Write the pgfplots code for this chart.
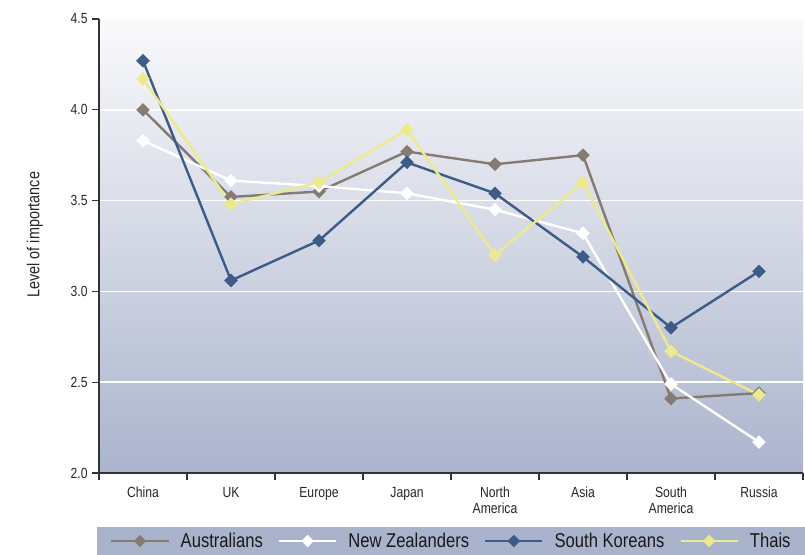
\documentclass[border=0pt]{standalone}
\usepackage{fontspec}
\setmainfont{Liberation Sans}[FakeStretch=0.83]
\usepackage{pgfplots}
\pgfplotsset{compat=1.18}
\definecolor{aus}{HTML}{857B71}
\definecolor{nz}{HTML}{FFFFFF}
\definecolor{sk}{HTML}{3D5B87}
\definecolor{thai}{HTML}{EDE98F}
\definecolor{bgtop}{HTML}{FAFAFC}
\definecolor{bgbot}{HTML}{AAB4CC}
\definecolor{legbg}{HTML}{A9B3CB}
\definecolor{axdark}{HTML}{333333}

\pgfplotstableread{
x aus nz sk thai
0 4.00 3.83 4.27 4.17
1 3.52 3.61 3.06 3.48
2 3.55 3.58 3.28 3.60
3 3.77 3.54 3.71 3.89
4 3.70 3.45 3.54 3.20
5 3.75 3.32 3.19 3.60
6 2.41 2.49 2.80 2.67
7 2.44 2.17 3.11 2.43
}\datatable

\begin{document}
\begin{tikzpicture}
\begin{axis}[
  scale only axis,
  width=528pt, height=340.5pt,
  xmin=-0.5, xmax=7.5,
  ymin=2, ymax=4.5,
  clip=false,
  axis x line*=bottom,
  axis y line*=left,
  axis line style={axdark, line width=1.3pt},
  axis background/.style={shade, top color=bgtop, bottom color=bgbot},
  xtick={-0.5,0.5,...,7.5},
  x tick label as interval,
  xticklabels={China,UK,Europe,Japan,{North\\America},Asia,{South\\America},Russia},
  xticklabel style={align=center, yshift=-2pt},
  ytick={2,2.5,...,4.5},
  yticklabel style={/pgf/number format/.cd, fixed, fixed zerofill, precision=1},
  /pgf/number format/assume math mode=true,
  tick align=outside,
  major tick length=5pt,
  tick style={axdark, line width=1pt},
  ticklabel style={font=\fontsize{11}{12}\selectfont, text=black!85},
  ymajorgrids,
  major grid style={white, line width=1.3pt},
  ylabel={Level of importance},
  every axis y label/.style={at={(rel axis cs:0,0.525)}, xshift=-48pt, rotate=90, anchor=center, font=\fontsize{13}{15}\selectfont, text=black!85},
  every axis plot/.append style={line width=1.8pt, mark=square*, mark size=2.7pt, mark options={rotate=45, solid}},
  legend columns=4,
  legend style={at={(axis description cs:0,-0.1498)}, anchor=west, xshift=8.25pt,
    draw=none, fill=none, inner xsep=0pt, inner ysep=0pt,
    font=\fontsize{15}{17}\selectfont, text=black!90,
    /tikz/every odd column/.append style={column sep=8.25pt},
    /tikz/every even column/.append style={column sep=11.25pt},
    nodes={inner xsep=0pt}},
  legend image code/.code={\draw[mark repeat=2, mark phase=2, mark size=2.4pt] plot coordinates {(0pt,0pt) (21.4pt,0pt) (42.8pt,0pt)};},
]
\fill[legbg] ([xshift=-1.5pt,yshift=-40.5pt]rel axis cs:0,0) rectangle ([xshift=1.5pt,yshift=-61.5pt]rel axis cs:1,0);
\coordinate (bl) at (rel axis cs:0,0);
\coordinate (tr) at (rel axis cs:1,1);
\addplot[aus] table[x=x, y=aus] {\datatable};
\addlegendentry{Australians}
\addplot[nz] table[x=x, y=nz] {\datatable};
\addlegendentry{New Zealanders}
\addplot[sk] table[x=x, y=sk] {\datatable};
\addlegendentry{South Koreans}
\addplot[thai] table[x=x, y=thai] {\datatable};
\addlegendentry{Thais}
\end{axis}
\pgfresetboundingbox
\path ([xshift=-74.25pt, yshift=-61.5pt]bl) rectangle ([xshift=1.5pt, yshift=14.25pt]tr);
\end{tikzpicture}
\end{document}
